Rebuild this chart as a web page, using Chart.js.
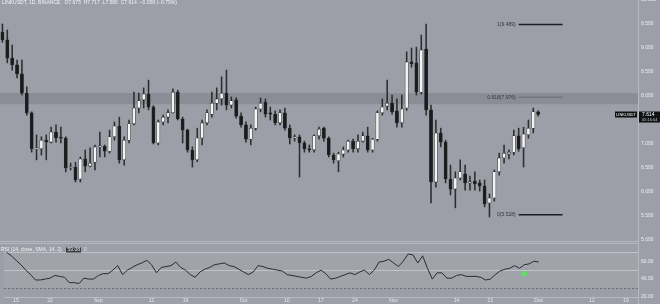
<!DOCTYPE html>
<html>
<head>
<meta charset="utf-8">
<script src="https://cdn.jsdelivr.net/npm/chart.js@4.4.0/dist/chart.umd.min.js"></script>
<style>
  body{margin:0;background:#9c9fa7;}
  #wrap{position:relative;width:660px;height:304px;overflow:hidden;background:#9c9fa7;}
  canvas{position:absolute;left:0;}
  #Chart1{top:0;}
  #Chart2{top:243px;}
</style>
</head>
<body>
<div id="wrap">
  <canvas id="Chart1" width="660" height="243"></canvas>
  <canvas id="Chart2" width="660" height="61"></canvas>
</div>
<script>
Chart.defaults.font.family = "'Liberation Sans', Arial, sans-serif"
Chart.defaults.font.size = 5
Chart.defaults.color = '#eceef2'

// dias (LINK/USDT diario, 13 ago -> 21 dic)
let startDay = Date.UTC(2022, 7, 13)
let dayCount = 131
let days = []
for (let i = 0; i < dayCount; i++) {
    days.push(new Date(startDay + i * 86400000).toISOString().slice(0, 10))
}

let tickDays  = ['2022-08-15','2022-08-22','2022-09-01','2022-09-12','2022-09-19','2022-10-01','2022-10-10','2022-10-17','2022-10-24','2022-11-01','2022-11-14','2022-11-21','2022-12-01','2022-12-12','2022-12-19']
let tickNames = ['15','22','Sep','12','19','Oct','10','17','24','Nov','14','21','Dec','12','19']

let opens  = [9.33,9.17,8.79,8.65,8.46,8.06,7.65,6.90,6.90,7.08,7.04,7.25,7.125,7.12,6.50,6.52,6.27,6.69,6.54,6.62,6.94,6.95,6.85,7.15,7.375,6.67,7.08,7.42,7.75,7.92,8.04,7.77,7.02,7.46,7.56,7.65,8.08,7.52,7.29,6.875,6.67,7.125,7.44,7.62,7.85,7.94,8.06,7.81,7.92,7.58,7.40,7.10,7.33,7.73,7.875,7.65,7.62,7.44,7.65,7.33,7.125,7.15,7.02,6.90,6.88,7.17,7.33,7.12,6.77,6.65,6.79,6.875,7.06,6.90,7.06,7.17,6.875,7.10,7.65,7.79,7.85,7.69,7.44,7.75,8.71,8.69,8.08,8.98,7.71,6.21,7.23,7.04,6.27,6.06,6.29,6.38,6.19,6.23,6.19,6.125,5.77,5.875,6.42,6.71,6.79,6.83,7.17,6.92,7.19,7.33,7.67]
let highs  = [9.50,9.375,9.06,8.75,8.75,8.19,7.67,7.19,7.15,7.19,7.35,7.40,7.35,7.15,6.60,6.62,6.73,6.875,6.92,6.98,7.25,6.98,7.29,7.46,7.56,7.15,7.50,8.08,8.06,8.17,8.33,7.80,7.50,7.60,7.71,8.15,8.12,7.56,7.31,6.94,7.33,7.50,7.71,8.08,8.17,8.40,8.54,7.98,7.96,7.65,7.46,7.40,7.77,7.96,7.94,7.77,7.69,7.71,7.75,7.40,7.19,7.19,7.06,6.98,7.19,7.35,7.35,7.15,6.81,6.83,6.94,7.08,7.10,7.19,7.25,7.35,7.12,7.69,7.94,8.33,8.02,7.94,8.02,8.92,9.00,9.02,9.27,9.50,7.81,7.50,7.33,7.08,6.56,6.42,6.67,6.56,6.33,6.42,6.25,6.25,5.96,6.46,6.81,6.98,6.88,7.29,7.33,7.35,7.50,7.75,7.69]
let lows   = [9.12,8.69,8.54,8.375,8.02,7.60,6.83,6.67,6.77,6.67,7.02,7.04,7.02,6.42,6.46,6.21,6.21,6.42,6.52,6.46,6.73,6.73,6.81,7.08,6.60,6.56,7.02,7.40,7.65,7.75,7.71,7.00,6.98,7.40,7.44,7.65,7.50,7.02,6.83,6.52,6.63,6.98,7.40,7.56,7.71,7.81,7.71,7.75,7.54,7.35,7.04,6.98,7.29,7.67,7.56,7.50,7.40,7.40,7.29,7.00,7.06,6.31,6.83,6.83,6.83,7.10,7.06,6.73,6.60,6.42,6.73,6.83,6.83,6.83,7.04,6.83,6.83,7.06,7.60,7.71,7.62,7.35,7.35,7.70,8.60,8.02,8.04,7.60,5.77,6.10,6.94,6.19,5.94,5.67,6.25,6.04,6.04,6.04,6.02,5.69,5.48,5.81,6.35,6.60,6.69,6.77,6.85,6.52,7.12,7.23,7.58]
let closes = [9.17,8.79,8.65,8.46,8.06,7.65,6.90,6.92,7.08,7.04,7.25,7.125,7.12,6.50,6.52,6.25,6.69,6.54,6.60,6.94,6.95,6.85,7.15,7.375,6.67,7.08,7.42,7.75,7.90,8.04,7.77,7.02,7.46,7.56,7.65,8.08,7.52,7.29,6.875,6.67,7.125,7.44,7.65,7.85,7.94,8.06,7.81,7.90,7.58,7.40,7.10,7.33,7.73,7.85,7.62,7.62,7.44,7.65,7.33,7.125,7.15,7.02,6.90,6.88,7.17,7.31,7.12,6.77,6.67,6.79,6.875,7.06,6.90,7.06,7.17,6.875,7.10,7.65,7.77,7.85,7.67,7.44,7.73,8.71,8.67,8.08,8.96,7.71,6.21,7.23,7.04,6.27,6.06,6.29,6.42,6.19,6.21,6.17,6.125,5.75,5.875,6.42,6.71,6.81,6.83,7.17,6.90,7.21,7.33,7.67,7.614]

let rsiValues = [70,66,61,56,50,45,39,39,40,41,44,43,42,36,36,35,41,40,40,44,46,46,50,55,45,50,53,56,58,61,56,47,53,54,55,59,53,50,45,42,48,51,53,56,57,58,55,54,51,48,45,48,55,54,52,51,50,49,45,44,43,42,41,43,47,50,46,40,41,43,45,47,45,48,50,45,50,59,60,62,58,54,60,68,67,58,66,52,40,47,47,41,41,44,45,43,43,43,42,39,40,45,49,51,52,55,52,56,57,60,59]

let priceTicks = [5,5.5,6,6.5,7,7.5,8,8.5,9,9.5,10]
let rsiTicks = [20,40,60]
let rsiLevels = [70,50,30]

// niveles fibonacci
let fibLevels = [9.489, 7.976, 5.528]
let fibNames  = ['1(9.489)', '0.618(7.976)', '0(5.528)']
let fibFrom = '2022-11-27'
let fibTo   = '2022-12-06'
let bandTop = 8.06
let bandBottom = 7.83

let divDay = '2022-11-28'
let divRsi = 46
let lastPrice = closes[closes.length - 1]

let bodies = opens.map((o, i) => [o, closes[i]])
let wicks = lows.map((l, i) => [l, highs[i]])
let bodyColors = opens.map((o, i) => closes[i] >= o ? '#f4f4f4' : '#1b1b1d')

let tickIdx = tickDays.map(d => days.indexOf(d))

// sin relleno automatico de los ejes (para que el area vaya de borde a borde)
function noPad(s){
    s.paddingTop = 0
    s.paddingBottom = 0
    s.paddingLeft = 0
    s.paddingRight = 0
}

let mainDeco = {
    id: 'mainDeco',
    beforeDatasetsDraw(chart) {
        let {ctx, chartArea, scales} = chart
        let y1 = scales.y.getPixelForValue(bandTop)
        let y2 = scales.y.getPixelForValue(bandBottom)
        ctx.save()
        ctx.fillStyle = 'rgba(95,98,108,0.3)'
        ctx.fillRect(chartArea.left, y1, chartArea.right - chartArea.left, y2 - y1)
        ctx.restore()
    },
    afterDraw(chart) {
        let {ctx, chartArea, scales} = chart
        ctx.save()
        // etiquetas fib
        ctx.font = "5px 'Liberation Sans', Arial"
        ctx.textAlign = 'right'
        ctx.textBaseline = 'middle'
        ctx.fillStyle = '#34363c'
        let xs = scales.x.getPixelForValue(days.indexOf(fibFrom)) - 3
        fibLevels.forEach((lv, i) => {
            ctx.fillText(fibNames[i], xs, scales.y.getPixelForValue(lv))
        })
        // encabezado
        ctx.textAlign = 'left'
        ctx.fillStyle = '#f2f3f6'
        ctx.fillText('LINKUSDT, 1D, BINANCE   O7.675  H7.717  L7.580  C7.614  \u22120.058 (\u22120.75%)', 2, 3)
        // linea divisoria abajo y eje derecho
        ctx.strokeStyle = '#b6b9c0'
        ctx.lineWidth = 1
        ctx.beginPath()
        ctx.moveTo(0, 241.5); ctx.lineTo(chartArea.right, 241.5)
        ctx.moveTo(chartArea.right + 0.5, 0); ctx.lineTo(chartArea.right + 0.5, 243)
        ctx.stroke()
        // precio actual
        let yp = scales.y.getPixelForValue(lastPrice)
        ctx.fillStyle = '#111214'
        ctx.fillRect(chartArea.right + 1, yp - 3, 22, 11)
        ctx.fillRect(chartArea.right - 23, yp - 3, 22, 6)
        ctx.fillStyle = '#ffffff'
        ctx.textAlign = 'left'
        ctx.fillText(lastPrice.toFixed(3), chartArea.right + 4, yp + 0.5)
        ctx.fillStyle = '#c8cad0'
        ctx.font = "4px 'Liberation Sans', Arial"
        ctx.fillText('05:16:04', chartArea.right + 4, yp + 5.5)
        ctx.fillStyle = '#ffffff'
        ctx.textAlign = 'center'
        ctx.fillText('LINKUSDT', chartArea.right - 12, yp)
        ctx.restore()
    }
}

let rsiDeco = {
    id: 'rsiDeco',
    beforeDatasetsDraw(chart) {
        let {ctx, chartArea, scales} = chart
        let w = chartArea.right - chartArea.left
        let y70 = scales.y.getPixelForValue(rsiLevels[0])
        let y50 = scales.y.getPixelForValue(rsiLevels[1])
        let y30 = scales.y.getPixelForValue(rsiLevels[2])
        ctx.save()
        ctx.fillStyle = 'rgba(255,255,255,0.05)'
        ctx.fillRect(chartArea.left, y70, w, y30 - y70)
        ctx.lineWidth = 1
        ctx.strokeStyle = 'rgba(220,222,228,0.55)'
        ctx.beginPath()
        ctx.moveTo(chartArea.left, Math.round(y70) + 0.5); ctx.lineTo(chartArea.right, Math.round(y70) + 0.5)
        ctx.moveTo(chartArea.left, Math.round(y50) + 0.5); ctx.lineTo(chartArea.right, Math.round(y50) + 0.5)
        ctx.stroke()
        ctx.setLineDash([2, 2])
        ctx.strokeStyle = 'rgba(70,72,80,0.6)'
        ctx.beginPath()
        ctx.moveTo(chartArea.left, Math.round(y30) + 0.5); ctx.lineTo(chartArea.right, Math.round(y30) + 0.5)
        ctx.stroke()
        ctx.restore()
    },
    afterDraw(chart) {
        let {ctx, chartArea} = chart
        ctx.save()
        ctx.strokeStyle = '#b6b9c0'
        ctx.lineWidth = 1
        ctx.beginPath()
        ctx.moveTo(0, 0.5); ctx.lineTo(chartArea.right, 0.5)
        ctx.moveTo(chartArea.right + 0.5, 0); ctx.lineTo(chartArea.right + 0.5, 61)
        ctx.stroke()
        ctx.font = "5px 'Liberation Sans', Arial"
        ctx.textBaseline = 'middle'
        ctx.fillStyle = '#f2f3f6'
        ctx.fillText('RSI (14, close, SMA, 14, 2)', 1, 7)
        ctx.fillStyle = '#3a3c42'
        ctx.fillRect(66, 4.5, 15, 5)
        ctx.fillStyle = '#e8e9ee'
        ctx.fillText('59.08', 67.5, 7)
        ctx.fillText('0', 84, 7)
        ctx.restore()
    }
}

function crearCharts(){
    new Chart(document.getElementById('Chart1'), {
        type: 'bar',
        data: {
            labels: days,
            datasets: [
                {
                    type: 'line',
                    label: 'fib1',
                    data: [{x: fibFrom, y: fibLevels[0]}, {x: fibTo, y: fibLevels[0]}],
                    borderColor: '#1c1d20',
                    borderWidth: 1.5,
                    pointRadius: 0,
                    order: 0
                },
                {
                    type: 'line',
                    label: 'fib0618',
                    data: [{x: fibFrom, y: fibLevels[1]}, {x: fibTo, y: fibLevels[1]}],
                    borderColor: '#5c5f67',
                    borderWidth: 0.8,
                    pointRadius: 0,
                    order: 0
                },
                {
                    type: 'line',
                    label: 'fib0',
                    data: [{x: fibFrom, y: fibLevels[2]}, {x: fibTo, y: fibLevels[2]}],
                    borderColor: '#1c1d20',
                    borderWidth: 1.5,
                    pointRadius: 0,
                    order: 0
                },
                {
                    label: 'body',
                    data: bodies,
                    backgroundColor: bodyColors,
                    borderColor: '#2a2b2e',
                    borderWidth: 0.6,
                    borderSkipped: false,
                    barThickness: 3.2,
                    minBarLength: 1,
                    grouped: false,
                    order: 1
                },
                {
                    label: 'wick',
                    data: wicks,
                    backgroundColor: '#2c2d30',
                    borderWidth: 0,
                    barThickness: 0.9,
                    grouped: false,
                    order: 2
                }
            ]
        },
        options: {
            responsive: false,
            devicePixelRatio: 1,
            animation: false,
            layout: { padding: 0 },
            plugins: {
                legend: { display: false },
                tooltip: { enabled: false }
            },
            scales: {
                x: {
                    type: 'category',
                    offset: true,
                    display: false
                },
                y: {
                    position: 'right',
                    min: 4.9375,
                    max: 10,
                    afterFit: s => { s.width = 22; noPad(s) },
                    afterBuildTicks: s => { s.ticks = priceTicks.map(v => ({value: v})) },
                    grid: { display: false, drawTicks: false },
                    border: { display: false },
                    ticks: {
                        padding: 3,
                        color: '#eef0f4',
                        font: { size: 5 },
                        callback: v => v.toFixed(3)
                    }
                }
            }
        },
        plugins: [mainDeco]
    })

    new Chart(document.getElementById('Chart2'), {
        type: 'line',
        data: {
            labels: days,
            datasets: [
                {
                    label: 'marca',
                    data: days.map(d => d === divDay ? divRsi : null),
                    showLine: false,
                    pointRadius: 2.6,
                    pointBackgroundColor: '#5fe05f',
                    pointBorderWidth: 0,
                    order: 0
                },
                {
                    label: 'RSI',
                    data: rsiValues,
                    borderColor: '#2a2b2f',
                    borderWidth: 1,
                    pointRadius: 0,
                    tension: 0,
                    order: 1
                }
            ]
        },
        options: {
            responsive: false,
            devicePixelRatio: 1,
            animation: false,
            layout: { padding: { top: 1 } },
            plugins: {
                legend: { display: false },
                tooltip: { enabled: false }
            },
            scales: {
                x: {
                    type: 'category',
                    offset: true,
                    afterBuildTicks: s => { s.ticks = tickIdx.map(v => ({value: v})) },
                    afterFit: s => { s.height = 7; noPad(s) },
                    grid: { display: false, drawTicks: false },
                    border: { display: true, color: '#b6b9c0' },
                    ticks: {
                        autoSkip: false,
                        maxRotation: 0,
                        padding: 1,
                        color: '#e6e8ec',
                        font: { size: 5 },
                        callback: v => tickNames[tickIdx.indexOf(v)]
                    }
                },
                y: {
                    position: 'right',
                    min: 20,
                    max: 75.8,
                    afterFit: s => { s.width = 22; noPad(s) },
                    afterBuildTicks: s => { s.ticks = rsiTicks.map(v => ({value: v})) },
                    grid: { display: false, drawTicks: false },
                    border: { display: false },
                    ticks: {
                        padding: 3,
                        color: '#eef0f4',
                        font: { size: 5 },
                        callback: v => v.toFixed(2)
                    }
                }
            }
        },
        plugins: [rsiDeco]
    })
}

crearCharts()
</script>
</body>
</html>
